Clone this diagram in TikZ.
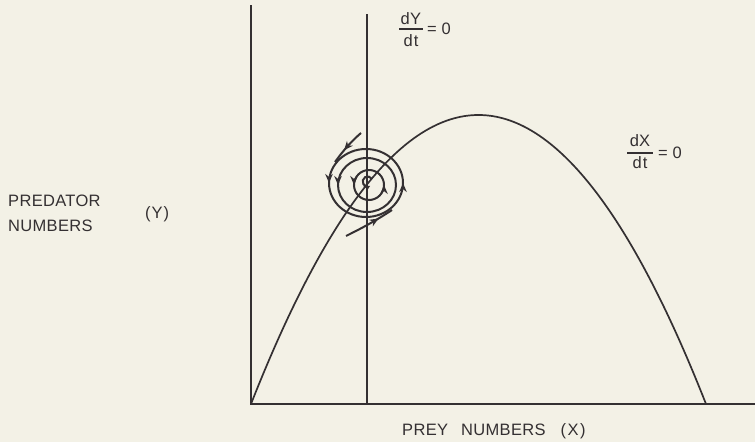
\documentclass[tikz,border=0pt]{standalone}
\usepackage{fontspec}
\setmainfont{Liberation Sans}
\newfontfamily\lab[LetterSpace=2]{Liberation Sans}
\usetikzlibrary{decorations.markings,arrows.meta}
\definecolor{paper}{RGB}{243,241,230}
\definecolor{ink}{RGB}{52,48,50}
\begin{document}
\begin{tikzpicture}[x=1pt,y=1pt,
  axis/.style={ink,line width=2.6pt},
  curve/.style={ink,line width=1.7pt},
  orbit/.style={ink,line width=2pt},
  lbl/.style={inner sep=0pt,font=\lab\fontsize{16.5}{19}\selectfont,text=ink},
  ar/.style={postaction={decorate,decoration={markings,mark=at position #1 with {\arrow[ink]{Stealth[length=9pt,width=7.5pt]}}}}}
]
\fill[paper] (0,0) rectangle (755,442);
\useasboundingbox (0,0) rectangle (755,442);
% axes
\coordinate (O) at (251,38);
\coordinate (xend) at (755,38);
\coordinate (ytop) at (251,436);
\coordinate (nb) at (367,38);
\coordinate (nt) at (367,428);
\coordinate (pend) at (706,38);
\draw[curve] (O) .. controls (402.67,423.33) and (554.33,423.33) .. (pend);
\draw[axis,line cap=rect] (ytop) -- (O) -- (xend);
\draw[curve,line width=2pt] (nb) -- (nt);
% orbits
\draw[orbit,ar=0.25,ar=0.75] (366,293) arc[start angle=90,end angle=450,x radius=37,y radius=34];
\draw[orbit,ar=0.25] (367,284) arc[start angle=90,end angle=450,x radius=29,y radius=27];
\draw[orbit,ar=0.25,ar=0.75] (369,272) arc[start angle=90,end angle=450,radius=15];
\draw[orbit,-{Stealth[length=6pt,width=6pt]}] (372,263) arc[start angle=30,end angle=300,radius=5];
\draw[orbit,ar=0.62] (361,309) .. controls (354,303) and (345,294) .. (335,280);
\draw[orbit,ar=0.7] (346,206) .. controls (358,212) and (374,220) .. (392,232);
% labels
\node[lbl,anchor=west] (pred) at (8,241) {PREDATOR};
\node[lbl,anchor=west] (num) at (8,216.5) {NUMBERS};
\node[lbl,anchor=west] (yl) at (145,228) {(\hspace{1pt}Y\hspace{1pt})};
\node[lbl,anchor=west] (xl) at (402,11) {PREY\hspace{13pt}NUMBERS\hspace{15pt}(\hspace{1.5pt}X\hspace{1.5pt})};
% dY/dt = 0
\node[lbl] (dy) at (411,423) {dY};
\node[lbl] (dyt) at (411,401) {d\hspace{1pt}t};
\coordinate (b1) at (399,413);
\coordinate (b2) at (423,413);
\draw[ink,line width=1.1pt] (b1) -- (b2);
\node[lbl,anchor=west] (eq1) at (427,413) {= 0};
% dX/dt = 0
\node[lbl] (dx) at (640,301) {dX};
\node[lbl] (dxt) at (640,279.5) {d\hspace{1pt}t};
\coordinate (c1) at (627,289);
\coordinate (c2) at (653,289);
\draw[ink,line width=1.1pt] (c1) -- (c2);
\node[lbl,anchor=west] (eq2) at (658,289) {= 0};
\end{tikzpicture}
\end{document}
